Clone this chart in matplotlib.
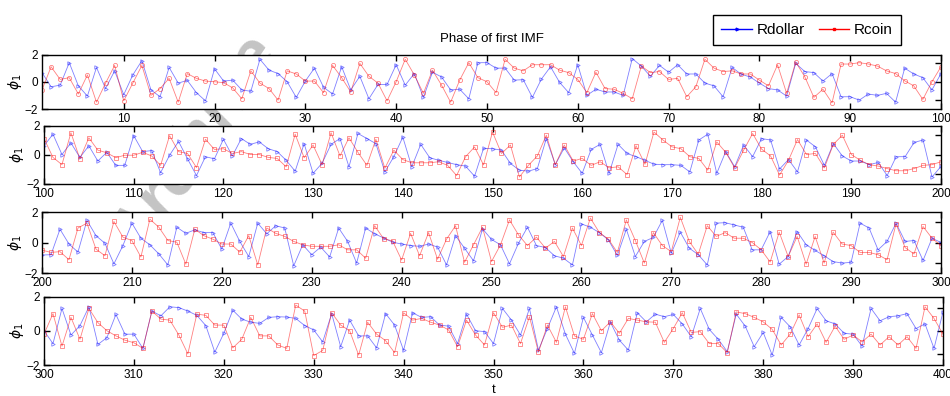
import matplotlib
matplotlib.use("Agg")
import matplotlib.pyplot as plt
from matplotlib.lines import Line2D
import numpy as np

plt.rcParams['font.family'] = ['Liberation Sans', 'DejaVu Sans']

# phase of first IMF, t = 1..400
rdollar = [
    0.67, -0.37, -0.25, 1.4, -0.3, -1.05, 1.05, -0.5, 0.8, -0.95,
    0.5, 1.55, -0.6, -1.1, 1.05, -0.1, 0.1, -0.8, -1.4, 0.95,
    0.05, 0.12, -0.6, -0.7, 1.65, 0.85, 0.6, 0.0, -1.15, 0.05,
    1.0, -0.4, -0.9, 1.1, -0.6, 0.4, -1.25, -0.2, -0.2, 1.25,
    -0.25, 0.6, -1.15, 0.7, 0.35, -0.6, -0.55, -1.25, 1.4, 1.4,
    1.0, 1.0, 0.12, 0.15, -1.15, 0.2, 1.1, -0.05, -0.8, 1.25,
    -1.0, -0.55, -0.75, -0.75, -1.0, 1.7, 1.15, 0.4, 1.2, 0.7,
    1.25, 0.57, 0.57, -0.1, -0.3, -1.1, 1.05, 0.55, 0.35, -0.1,
    -0.5, -0.6, -1.05, 1.35, 0.75, 0.67, 0.05, 0.6, -1.1, -1.1,
    -1.35, -0.9, -1.0, -0.85, -1.5, 1.0, 0.57, 0.3, -0.6, 0.6,
    1.4, 0.0, 0.8, -0.2, 0.6, -0.45, 0.15, -0.75, -0.75, 1.3,
    0.2, 0.27, -1.25, -0.05, 0.9, -0.3, -1.45, -0.15, -0.3, 1.05,
    -0.1, 1.1, 0.7, 0.87, 0.4, 0.2, -0.4, -1.15, 0.75, -1.3,
    -0.6, 0.7, 1.1, -0.85, 1.45, 1.1, 0.75, -1.2, -0.15, 1.2,
    -0.85, 0.7, -0.22, -0.4, -0.55, -0.7, -0.8, -1.5, 0.42, 0.4,
    0.3, -0.62, -1.08, -1.15, -0.97, 1.1, -0.7, 0.46, -0.5, -1.3,
    0.35, 0.7, -1.3, 0.7, 0.07, -0.15, -0.4, -0.67, -0.7, -0.7,
    -0.75, -1.2, 1.0, 1.4, -1.3, 0.2, -0.85, 0.65, -0.15, 1.1,
    1.0, -1.0, -0.35, -1.2, 1.0, 0.53, -0.75, 0.75, -0.1, -0.45,
    -0.45, -0.7, -0.55, -1.45, -0.15, -0.15, 0.83, 1.0, -1.55, -0.82,
    -0.8, 0.87, -0.1, -0.63, 1.45, 0.45, -0.05, -1.4, -0.2, 1.27,
    0.28, -0.15, -0.75, -1.47, 1.0, 0.6, 0.83, 0.65, 0.65, -0.43,
    1.27, 0.07, -0.92, 1.27, 0.57, 1.1, 0.95, -1.53, -0.15, -0.8,
    -0.3, -0.95, 0.95, 0.07, -1.35, 0.95, 0.57, 0.3, 0.02, -0.1,
    -0.2, -0.25, -0.1, -0.3, -1.47, 0.45, -0.37, -1.2, 0.9, 0.2,
    -0.15, -1.4, -0.05, 1.0, -0.2, -0.33, -0.87, -1.03, -1.47, 1.22,
    1.0, 0.65, 0.17, -0.85, 0.87, -0.92, 0.07, 0.33, 1.45, -0.7,
    0.68, -0.37, -0.8, -1.47, 1.27, 1.3, 1.15, 1.0, -0.48, -0.48,
    0.72, -1.42, -0.92, 0.72, -0.15, -0.52, -0.87, -1.25, -1.35, -1.3,
    1.27, 0.95, -0.48, 0.07, 1.27, 0.07, 0.13, -1.18, 0.28, 0.0,
    -0.75, 1.3, -0.25, 0.3, 1.4, -0.8, -0.4, 0.95, -0.2, -0.2,
    -1.03, 1.15, 0.87, 1.4, 1.35, 1.15, 0.9, 0.3, -1.25, -0.15,
    1.2, 0.68, 0.5, 0.43, 0.78, 0.82, 0.8, 0.72, 0.3, 0.05,
    -0.65, 1.0, -0.93, 0.62, -0.3, -0.3, -1.0, 1.0, 0.33, -1.15,
    1.05, 0.78, 0.82, 0.33, 0.27, -0.75, 0.97, 0.0, -0.05, -0.75,
    1.3, 0.62, -0.25, 1.3, -1.13, 0.13, 1.4, -0.2, -1.32, 0.78,
    -0.25, -1.28, 0.5, -0.55, -1.13, 1.05, 0.52, 0.97, 0.82, 0.95,
    0.4, -0.35, 1.3, 0.08, -0.5, -1.22, 0.97, 0.27, -0.93, -0.1,
    -1.42, 0.78, 0.23, -0.83, 0.13, 1.3, 0.58, 0.4, -0.15, -0.2,
    -0.9, 1.3, 0.58, 0.82, 0.87, 1.0, 0.13, 0.4, -1.03, 1.1,
]

rcoin = [
    -0.6, 1.1, 0.17, 0.3, -0.9, 0.5, -1.5, -0.1, 1.2, -1.4,
    -0.1, 1.2, -1.0, -0.5, 0.25, -1.5, 0.6, 0.25, 0.05, 0.0,
    -0.07, -0.45, -1.25, 0.8, -0.1, -0.5, -1.35, 0.8, 0.57, 0.05,
    0.05, -0.8, 1.2, 0.3, -0.75, 1.35, 0.4, -0.1, -1.4, 0.0,
    1.65, 0.5, -0.85, 0.85, -0.25, -1.5, 0.12, 1.4, 0.3, 0.0,
    -0.8, 1.65, 1.0, 0.8, 1.25, 1.25, 1.25, 0.85, 0.67, 0.17,
    -0.8, 0.7, -0.5, -0.55, -0.85, -1.25, 1.15, 0.67, 0.75, 0.17,
    0.25, -1.1, -0.37, 1.65, 1.0, 0.75, 0.8, 0.57, 0.57, 0.12,
    -0.3, 1.25, -0.85, 1.45, 0.37, -1.15, -0.55, -1.55, 1.3, 1.3,
    1.4, 1.3, 1.15, 0.8, 0.6, 0.07, -0.3, -1.3, 0.0, 1.1,
    -0.2, -0.7, 1.5, -0.3, 1.15, 0.3, 0.12, -0.22, -0.05, -0.05,
    0.15, -0.1, -0.75, 1.3, 0.2, 0.07, -0.9, 1.05, 0.35, 0.4,
    0.07, 0.2, 0.0, 0.0, -0.2, -0.27, -0.85, 1.4, -0.22, 0.65,
    -0.7, 1.5, -0.1, 1.15, 0.15, -0.75, 1.05, -0.95, 0.3, -0.35,
    -0.57, -0.57, -0.57, -0.5, -0.75, -1.45, -0.15, 0.52, -0.72, 1.55,
    0.07, 0.65, -1.55, -0.75, -0.1, 1.33, -0.7, 0.65, -0.45, -0.27,
    -0.75, -0.5, -0.92, -0.85, -1.38, 0.6, -0.67, 1.55, 1.0, 0.53,
    0.4, -0.15, -0.27, -1.08, 0.87, 0.15, -0.92, 0.3, 1.45, 0.37,
    -0.1, -1.42, -0.4, 1.03, 0.0, 0.07, -0.92, 0.7, 1.33, 0.0,
    -0.4, -0.7, -0.8, -0.97, -1.12, -1.12, -0.97, -0.75, -0.7, -0.5,
    -0.65, -0.6, -1.13, 0.95, 1.27, -0.43, -0.87, 1.38, 0.35, 0.13,
    -0.95, 1.53, 1.0, 0.13, 0.02, -1.42, 0.87, 0.45, 0.22, -0.1,
    -0.1, -0.63, 0.45, -1.47, 0.95, 0.6, 0.4, 0.07, -0.15, -0.25,
    -0.25, -0.25, -0.15, -0.48, -0.48, -1.03, 1.1, 0.25, 0.1, -1.15,
    0.6, -0.87, 0.65, -1.1, 0.22, 1.1, -1.3, -0.15, 1.0, -1.25,
    -0.15, 1.48, 0.5, -0.2, 0.35, -0.37, 0.07, -0.92, 0.95, -0.2,
    1.6, 0.65, 0.22, -0.65, 1.48, 0.13, -1.35, 0.65, -0.2, -0.6,
    1.65, 0.07, -0.77, 1.1, 0.4, 0.65, 0.28, 0.28, 0.0, -0.48,
    -1.28, 0.68, -0.92, 0.4, -1.42, 0.4, -1.35, 0.68, -0.1, -0.2,
    -0.65, -0.65, -0.8, -1.13, 1.22, -0.33, -0.75, 1.05, 0.28, -0.2,
    1.0, -0.9, 0.78, -0.5, 1.3, 0.47, 0.0, -0.3, -0.55, -0.7,
    -1.03, 1.15, 0.68, 0.62, -0.25, -1.35, 0.97, 0.9, 0.33, 0.33,
    -1.0, -0.5, 0.78, -0.3, -0.3, -0.83, -1.03, 1.5, 1.15, -1.45,
    -1.15, 1.05, 0.33, 0.0, -1.42, 0.5, -0.2, -0.58, -1.28, 1.05,
    0.62, 0.72, 0.5, 0.33, 0.05, -0.93, 0.62, -0.25, -0.83, 1.05,
    0.2, 0.33, -0.75, 0.82, -1.25, 0.33, -0.68, 1.4, -0.3, -0.5,
    1.0, 0.0, 0.52, -0.15, 0.72, 0.62, 0.52, 0.5, -0.68, 0.13,
    1.05, -0.1, -0.05, -0.75, -0.75, -1.28, 1.1, 1.0, 0.78, 0.52,
    0.08, -0.83, -0.2, 0.92, -0.35, 0.4, -0.68, 0.27, -0.5, -0.25,
    -0.65, -0.2, -0.83, -0.35, -0.83, -0.35, -1.03, 1.4, 0.72, -0.2,
]

t = np.arange(1, len(rdollar) + 1)

W, H = 950, 396
fig = plt.figure(figsize=(W / 100, H / 100), dpi=100)

# grey watermark behind the panels (only shows between them)
fig.text(195 / W, 1 - 150 / H, "Archive", fontsize=50, color="#c4c4c4",
         rotation=56, style="italic", fontweight="bold",
         ha="center", va="center", zorder=-5)

# panel boxes in pixels: x0, x1, ytop, ybottom
boxes = [(42, 941, 54.5, 109), (44, 941, 125.5, 183.5),
         (42, 941, 212, 273), (44, 943, 296.5, 365)]
xlims = [(1, 100), (100, 200), (200, 300), (300, 400)]
red_marker = ['o', 's', 's', 's']

axes = []
for i, (x0, x1, y0, y1) in enumerate(boxes):
    ax = fig.add_axes([x0 / W, 1 - y1 / H, (x1 - x0) / W, (y1 - y0) / H])
    ax.set_facecolor("white")
    ax.plot(t, rdollar, color="blue", lw=0.6, alpha=0.5,
            marker=">", ms=2.5, mfc="none", mew=0.6)
    ax.plot(t, rcoin, color="red", lw=0.6, alpha=0.5,
            marker=red_marker[i], ms=3, mfc="none", mew=0.6)
    lo, hi = xlims[i]
    ax.set_xlim(lo, hi)
    ax.set_ylim(-2, 2)
    first = lo if lo % 10 == 0 else lo + 10 - lo % 10
    ax.set_xticks(np.arange(first, hi + 1, 10))
    ax.set_yticks([-2, 0, 2])
    ax.tick_params(direction="in", top=True, right=False, length=4, width=1,
                   labelsize=8.5, pad=3)
    sec = ax.secondary_yaxis("right")
    sec.set_yticks([-1.35, 0, 1.35])
    sec.set_yticklabels([])
    sec.tick_params(direction="in", length=4, width=1)
    sec.spines["right"].set_visible(False)
    for s in ax.spines.values():
        s.set_linewidth(1)
    ax.set_ylabel(r"$\phi_1$", fontsize=10, labelpad=0)
    axes.append(ax)

axes[0].set_title("Phase of first IMF", fontsize=9.5, pad=9)
axes[3].set_xlabel("t", fontsize=9.5, labelpad=2)

handles = [Line2D([], [], color="blue", lw=1, marker=">", ms=2, mfc="none"),
           Line2D([], [], color="red", lw=1, marker="s", ms=2, mfc="none")]
fig.legend(handles, ["Rdollar", "Rcoin"], loc="center",
           bbox_to_anchor=(807 / W, 1 - 30 / H), ncol=2, fontsize=11,
           frameon=True, fancybox=False, edgecolor="black", framealpha=1,
           handlelength=2.0, handletextpad=0.3, columnspacing=0.9,
           borderpad=0.55)

fig.savefig("out.png", dpi=100)
